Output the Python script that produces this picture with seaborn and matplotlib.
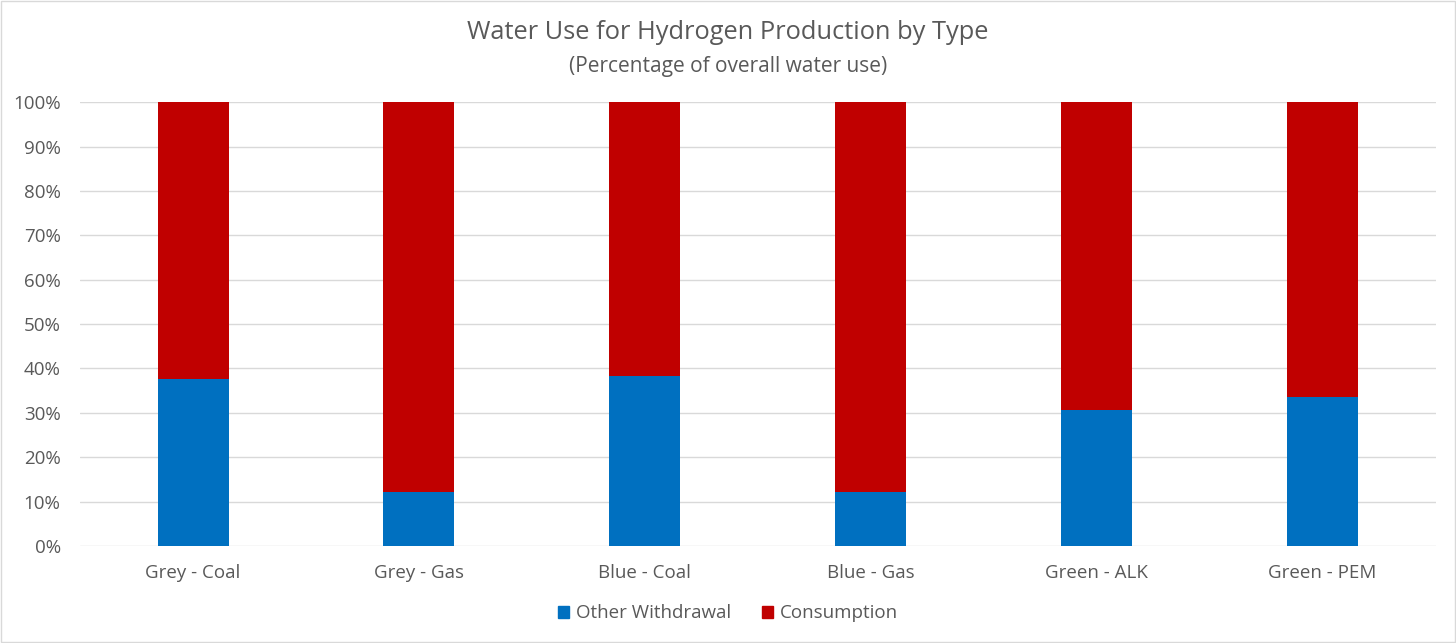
import matplotlib.pyplot as plt
import pandas as pd
import seaborn as sns
from matplotlib.patches import Patch
from matplotlib.ticker import PercentFormatter

# Data (% of overall water use)
types = ['Grey - Coal', 'Grey - Gas', 'Blue - Coal', 'Blue - Gas', 'Green - ALK', 'Green - PEM']
other_withdrawal = [37.6, 12.1, 38.2, 12.1, 30.7, 33.6]
consumption = [100 - v for v in other_withdrawal]

blue = '#0070C0'
red = '#C00000'
text_color = '#595959'

df = pd.DataFrame({'type': types, 'other': other_withdrawal, 'consumption': consumption})
df['total'] = df['other'] + df['consumption']

sns.set_style('white')
plt.rcParams['font.family'] = ['Open Sans', 'DejaVu Sans']

fig = plt.figure(figsize=(14.56, 6.43), dpi=100)
ax = fig.add_axes([0.055, 0.151, 0.931, 0.690])

# Stacked bars: total (red) behind, other withdrawal (blue) in front
sns.barplot(data=df, x='type', y='total', color=red, width=0.314, ax=ax,
            saturation=1, linewidth=0, zorder=3)
sns.barplot(data=df, x='type', y='other', color=blue, width=0.314, ax=ax,
            saturation=1, linewidth=0, zorder=3)

ax.set_ylim(0, 100)
ax.set_yticks(range(0, 101, 10))
ax.yaxis.set_major_formatter(PercentFormatter(decimals=0))
ax.grid(axis='y', color='#D9D9D9', linewidth=1, zorder=0)
ax.set_axisbelow(True)
for s in ax.spines.values():
    s.set_visible(False)
ax.tick_params(axis='both', length=0, labelsize=13.5, colors=text_color)
ax.tick_params(axis='x', pad=13)
ax.tick_params(axis='y', pad=14)
ax.set_xlabel('')
ax.set_ylabel('')

fig.text(0.5, 0.95, 'Water Use for Hydrogen Production by Type', ha='center',
         va='center', fontsize=18.3, color=text_color)
fig.text(0.5, 0.897, '(Percentage of overall water use)', ha='center',
         va='center', fontsize=15, color=text_color)

handles = [Patch(color=blue, label='Other Withdrawal'),
           Patch(color=red, label='Consumption')]
fig.legend(handles=handles, loc='center', bbox_to_anchor=(0.5, 0.046), ncol=2,
           frameon=False, fontsize=13.5, labelcolor=text_color, handlelength=0.6,
           handleheight=0.6, handletextpad=0.4, columnspacing=1.6)

fig.patches.append(plt.Rectangle((0.0005, 0.001), 0.999, 0.998, transform=fig.transFigure,
                                 fill=False, edgecolor='#D9D9D9', linewidth=1))

fig.savefig('out.png', dpi=100)
